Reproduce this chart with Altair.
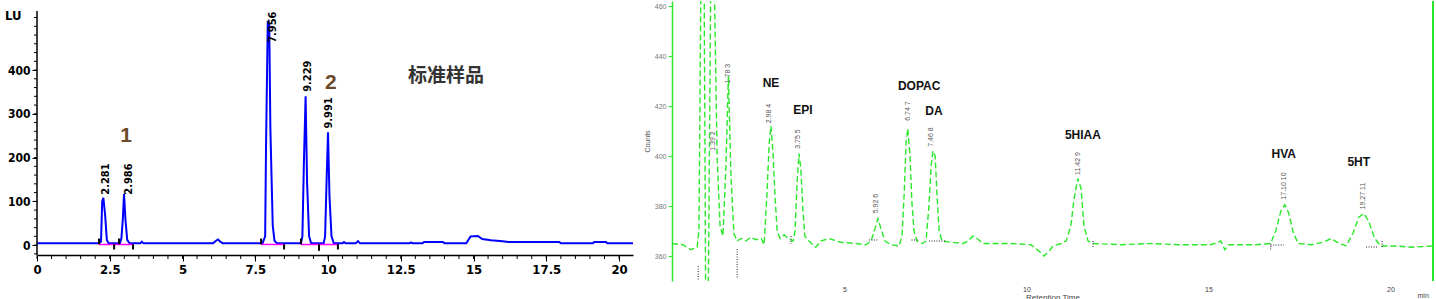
import altair as alt
import pandas as pd

# ---------------- Left panel: 标准样品 (blue trace) ----------------
left_time = [0, 2.13, 2.20, 2.24, 2.28, 2.34, 2.40, 2.46, 2.85, 2.90, 2.95, 2.99, 3.04, 3.10, 3.18,
             3.55, 3.60, 3.66, 6.05, 6.15, 6.22, 6.30, 6.38,
             7.75, 7.84, 7.87, 7.93, 7.98, 8.02, 8.10, 8.16, 8.25,
             9.07, 9.12, 9.17, 9.23, 9.28, 9.35, 9.42,
             9.85, 9.90, 9.95, 10.00, 10.05, 10.12, 10.20,
             10.50, 10.55, 10.60, 10.95, 11.03, 11.10, 12.80, 12.85, 12.90,
             13.25, 13.30, 13.95, 14.00, 14.75, 14.90, 15.15, 15.30, 15.60, 16.00, 16.20,
             17.95, 18.00, 19.10, 19.15, 19.55, 19.60, 20.48]
left_signal = [4, 4, 8, 100, 108, 70, 12, 4, 4, 15, 60, 117, 58, 12, 4,
               4, 8, 4, 4, 10, 13, 8, 4,
               4, 20, 225, 512, 505, 265, 45, 10, 4,
               4, 20, 185, 340, 145, 20, 4,
               4, 20, 145, 258, 112, 20, 4,
               4, 7, 4, 4, 9, 4, 4, 6, 4,
               4, 7, 7, 4, 4, 20, 21, 14, 11, 9, 7,
               7, 4, 4, 7, 7, 4, 4]

left_rt_text = ["2.281", "2.986", "7.956", "9.229", "9.991"]
left_rt_t = [2.37, 3.16, 8.11, 9.31, 10.03]
left_rt_v = [151, 151, 498, 386, 302]

left_base_start = [2.13, 7.70, 9.07]
left_base_end = [3.30, 8.49, 10.34]

left_mark_t = [2.13, 2.65, 2.82, 3.30, 7.70, 8.49, 9.07, 9.69, 10.34]
left_mark_top = [15, 2, 15, 2, 15, 2, 15, 2, 2]
left_mark_bot = [2, -10, 2, -10, 2, -10, 2, -13, -10]

left_x_labels = [0, 2.5, 5, 7.5, 10, 12.5, 15, 17.5, 20]
left_x_minor = [i * 0.5 for i in range(41)]
left_y_labels = [0, 100, 200, 300, 400]
left_y_minor = [-20] + [i * 20 for i in range(27)]

# ---------------- Right panel: sample (green trace) ----------------
right_time = [0.26, 0.56, 0.78, 0.95, 1.00, 1.06, 1.14, 1.19, 1.25, 1.33, 1.41, 1.50, 1.58, 1.66,
              1.74, 1.81, 1.88, 1.96, 2.05, 2.16, 2.29, 2.43, 2.57, 2.71, 2.79,
              2.87, 2.93, 2.98, 3.04, 3.09, 3.15, 3.23, 3.34, 3.45, 3.59,
              3.64, 3.70, 3.75, 3.80, 3.86, 3.91, 4.02, 4.21, 4.35, 4.57, 4.90, 5.32, 5.59,
              5.73, 5.84, 5.92, 6.00, 6.11, 6.28, 6.50,
              6.58, 6.64, 6.69, 6.74, 6.80, 6.85, 6.91, 6.99, 7.13, 7.24,
              7.32, 7.38, 7.43, 7.49, 7.54, 7.60, 7.68, 7.93, 8.26,
              8.40, 8.53, 8.64, 8.81, 9.02, 9.57, 10.12, 10.34, 10.48, 10.62, 10.73, 10.95,
              11.09, 11.22, 11.30, 11.41, 11.50, 11.58, 11.69, 11.85,
              12.59, 13.41, 14.24, 15.07, 15.34, 15.45, 15.56, 16.30, 16.71,
              16.85, 16.99, 17.10, 17.21, 17.32, 17.46, 17.82, 18.15, 18.37, 18.59,
              18.78, 18.97, 19.13, 19.27, 19.40, 19.57, 19.73, 20.15, 20.56, 21.17]
right_signal = [365, 364.5, 362.5, 363.5, 370, 480, 480, 330, 330, 480, 480, 400, 372, 368,
                395, 432, 392, 369, 366, 367, 366, 367.5, 366.5, 367, 364.5,
                385, 405, 412, 400, 384, 370, 367, 368.5, 367, 366,
                370, 390, 401, 395, 378, 368, 366, 363.5, 366, 367, 365.5, 365, 364.5,
                366, 371, 375, 371, 366, 364.5, 364,
                368, 385, 405, 411, 400, 382, 370, 366, 365, 366,
                380, 396, 402, 400, 385, 370, 366, 365.5, 365,
                366, 368, 367, 365, 365, 365, 364.5, 362, 360, 362, 364, 365,
                366, 372, 382, 391, 387, 372, 366, 365,
                364.5, 365, 364.5, 364.5, 366, 362.5, 364.5, 364.5, 365,
                370, 378, 380.5, 377, 370, 365, 364.5, 365.5, 367, 365,
                364, 369, 375.5, 377, 374, 367, 364, 364, 363.5, 364]

right_names = ["NE", "EPI", "DOPAC", "DA", "5HIAA", "HVA", "5HT"]
right_name_t = [2.98, 3.86, 7.05, 7.46, 11.55, 17.07, 19.13]
right_name_v = [429.2, 418.4, 428, 418, 408.4, 400.8, 397.6]

right_rt_text = ["1.39 2", "1.78 3", "2.98 4", "3.75 5", "5.92 6", "6.74 7", "7.46 8",
                 "11.42 9", "17.10 10", "19.27 11"]
right_rt_t = [1.39, 1.80, 2.93, 3.72, 5.87, 6.74, 7.38, 11.42, 17.07, 19.24]
right_rt_v = [406, 433, 417, 406.8, 381, 418, 407.6, 397, 388, 384]

right_base_start = [5.67, 6.84, 7.32, 16.71, 19.33]
right_base_end = [5.92, 7.05, 7.79, 17.07, 19.66]
right_base_v = [366.4, 366.4, 366, 364.4, 363.6]

right_vmark_t = [0.98, 2.05, 3.53, 11.83, 16.71, 19.77]
right_vmark_top = [356, 362.8, 368, 366, 365, 366]
right_vmark_bot = [350, 350.8, 364.8, 363.6, 362.5, 363.6]

right_y_ticks = [360, 380, 400, 420, 440, 460]
right_x_ticks = [5, 10, 15, 20]

# ---------------- build left chart ----------------
NARROW = "Liberation Sans Narrow, DejaVu Sans Condensed, Arial Narrow, sans-serif"
LW, LH = 596, 254
lxs = alt.Scale(domain=[0, 20.48], nice=False, zero=False)
lys = alt.Scale(domain=[-22.6, 557.8], nice=False, zero=False)

ldf = pd.DataFrame({"t": left_time, "v": left_signal})
lrt = pd.DataFrame({"t": left_rt_t, "v": left_rt_v, "txt": left_rt_text})
lbase = pd.DataFrame({"s": left_base_start, "e": left_base_end})
lmark = pd.DataFrame({"t": left_mark_t, "a": left_mark_top, "b": left_mark_bot})

lx_axis = alt.Axis(values=left_x_labels, format=".1~f",
                   tickSize=6, tickColor="black", domainColor="black", domainWidth=1.5,
                   labelFont=NARROW, labelFontSize=13, labelFontWeight="bold", labelColor="black",
                   labelPadding=2, grid=False, title=None, labelFlush=False, labelOverlap=False)
ly_axis = alt.Axis(values=left_y_labels, format=".1~f",
                   tickSize=5, tickColor="black", domain=False,
                   labelFont=NARROW, labelFontSize=12, labelFontWeight="bold", labelColor="black",
                   labelPadding=2, grid=False, title=None, labelOverlap=False, labelFlush=False)

l_line = alt.Chart(ldf).mark_line(color="#0000ff", strokeWidth=2).encode(
    x=alt.X("t:Q", scale=lxs, axis=lx_axis), y=alt.Y("v:Q", scale=lys, axis=ly_axis))
l_xminor = alt.Chart(pd.DataFrame({"t": left_x_minor})).mark_rule(color="black", strokeWidth=1).encode(
    x=alt.X("t:Q", scale=lxs), y=alt.value(LH), y2=alt.value(LH + 4))
l_yminor = alt.Chart(pd.DataFrame({"v": left_y_minor})).mark_rule(color="black", strokeWidth=1).encode(
    y=alt.Y("v:Q", scale=lys), x=alt.value(0), x2=alt.value(-3))
l_base = alt.Chart(lbase).mark_rule(color="#ff00ff", strokeWidth=1.5).encode(
    x=alt.X("s:Q", scale=lxs), x2="e:Q", y=alt.datum(1.5, scale=lys))
l_marks = alt.Chart(lmark).mark_rule(color="black", strokeWidth=2).encode(
    x=alt.X("t:Q", scale=lxs), y=alt.Y("a:Q", scale=lys), y2="b:Q")
l_yline = alt.Chart(pd.DataFrame({"a": [535], "b": [-22.6]})).mark_rule(color="black", strokeWidth=1.5).encode(
    x=alt.value(0), y=alt.Y("a:Q", scale=lys), y2="b:Q")
l_rt = alt.Chart(lrt).mark_text(angle=270, font=NARROW, fontSize=11, fontWeight="bold", color="black").encode(
    x=alt.X("t:Q", scale=lxs), y=alt.Y("v:Q", scale=lys), text="txt:N")
l_nums = alt.Chart(pd.DataFrame({"t": [3.06, 10.1], "v": [249, 370], "txt": ["1", "2"]})).mark_text(
    font="Liberation Sans, Arial, sans-serif", fontSize=21, fontWeight="bold", color="#6b4a2a").encode(
    x=alt.X("t:Q", scale=lxs), y=alt.Y("v:Q", scale=lys), text="txt:N")
l_title = alt.Chart(pd.DataFrame({"t": [14.05], "v": [386], "txt": ["标准样品"]})).mark_text(
    font="Noto Sans CJK SC", fontSize=19, fontWeight="bold", color="#333333").encode(
    x=alt.X("t:Q", scale=lxs), y=alt.Y("v:Q", scale=lys), text="txt:N")
l_unit = alt.Chart(pd.DataFrame({"t": [-0.82], "v": [523], "txt": ["LU"]})).mark_text(
    font=NARROW, fontSize=13, fontWeight="bold", color="black").encode(
    x=alt.X("t:Q", scale=lxs), y=alt.Y("v:Q", scale=lys), text="txt:N")
l_bound = alt.Chart(pd.DataFrame({"a": [0]})).mark_rule(color="white", strokeWidth=1).encode(
    x=alt.value(-36), x2=alt.value(-35), y=alt.value(120))

left = alt.layer(l_line, l_xminor, l_yminor, l_base, l_marks, l_yline, l_rt, l_nums, l_title,
                 l_unit, l_bound).properties(width=LW, height=LH)

# ---------------- build right chart ----------------
GREEN = "#2be82b"
RW, RH = 761, 280
rxs = alt.Scale(domain=[0.26, 21.17], nice=False, zero=False)
rys = alt.Scale(domain=[350, 462], nice=False, zero=False)

rdf = pd.DataFrame({"t": right_time, "v": right_signal})
rnames = pd.DataFrame({"t": right_name_t, "v": right_name_v, "txt": right_names})
rrt = pd.DataFrame({"t": right_rt_t, "v": right_rt_v, "txt": right_rt_text})
rbase = pd.DataFrame({"s": right_base_start, "e": right_base_end, "v": right_base_v})
rvm = pd.DataFrame({"t": right_vmark_t, "a": right_vmark_top, "b": right_vmark_bot})

rx_axis = alt.Axis(values=right_x_ticks, domain=False, ticks=False, grid=False,
                   labelFontSize=7, labelColor="#444444", labelPadding=4,
                   title="Retention Time", titleFontSize=8, titleFontWeight="normal",
                   titleColor="#444444", titlePadding=1)
ry_axis = alt.Axis(values=right_y_ticks, domainColor=GREEN, domainWidth=1.5, tickColor=GREEN,
                   tickSize=4, grid=False, labelFontSize=7, labelColor="#777777", labelPadding=2,
                   title="Counts", titleFontSize=7, titleFontWeight="normal", titleColor="#555555",
                   titlePadding=4)

r_line = alt.Chart(rdf).mark_line(color=GREEN, strokeWidth=1.4, strokeDash=[6, 3], clip=True).encode(
    x=alt.X("t:Q", scale=rxs, axis=rx_axis), y=alt.Y("v:Q", scale=rys, axis=ry_axis))
r_frame = alt.Chart(pd.DataFrame({"a": [0]})).mark_rule(color=GREEN, strokeWidth=2).encode(
    x=alt.value(RW), y=alt.value(0), y2=alt.value(RH))
r_base = alt.Chart(rbase).mark_rule(color="#222222", strokeWidth=1, strokeDash=[1, 1.5]).encode(
    x=alt.X("s:Q", scale=rxs), x2="e:Q", y=alt.Y("v:Q", scale=rys))
r_vm = alt.Chart(rvm).mark_rule(color="#222222", strokeWidth=1, strokeDash=[1, 1.5]).encode(
    x=alt.X("t:Q", scale=rxs), y=alt.Y("a:Q", scale=rys), y2="b:Q")
r_names = alt.Chart(rnames).mark_text(font="Liberation Sans, Arial, sans-serif", fontSize=12,
                                      fontWeight="bold", color="#111111").encode(
    x=alt.X("t:Q", scale=rxs), y=alt.Y("v:Q", scale=rys), text="txt:N")
r_rt = alt.Chart(rrt).mark_text(angle=270, fontSize=7, color="#555555").encode(
    x=alt.X("t:Q", scale=rxs), y=alt.Y("v:Q", scale=rys), text="txt:N")
r_min = alt.Chart(pd.DataFrame({"t": [20.9], "v": [344.2], "txt": ["min"]})).mark_text(
    fontSize=7, color="#444444").encode(
    x=alt.X("t:Q", scale=rxs), y=alt.Y("v:Q", scale=rys), text="txt:N")
r_bound = alt.Chart(pd.DataFrame({"a": [0]})).mark_rule(color="white", strokeWidth=1).encode(
    x=alt.value(-34), x2=alt.value(-33), y=alt.value(20))

right = alt.layer(r_line, r_frame, r_base, r_vm, r_names, r_rt, r_min, r_bound).properties(
    width=RW, height=RH)

chart = (alt.hconcat(left, right, spacing=0)
         .properties(padding=0, background="white")
         .configure_view(stroke=None)
         .configure_axis(labelOverlap=False, labelBound=False))

chart.save("out.html", embed_options={"renderer": "svg", "actions": False})
